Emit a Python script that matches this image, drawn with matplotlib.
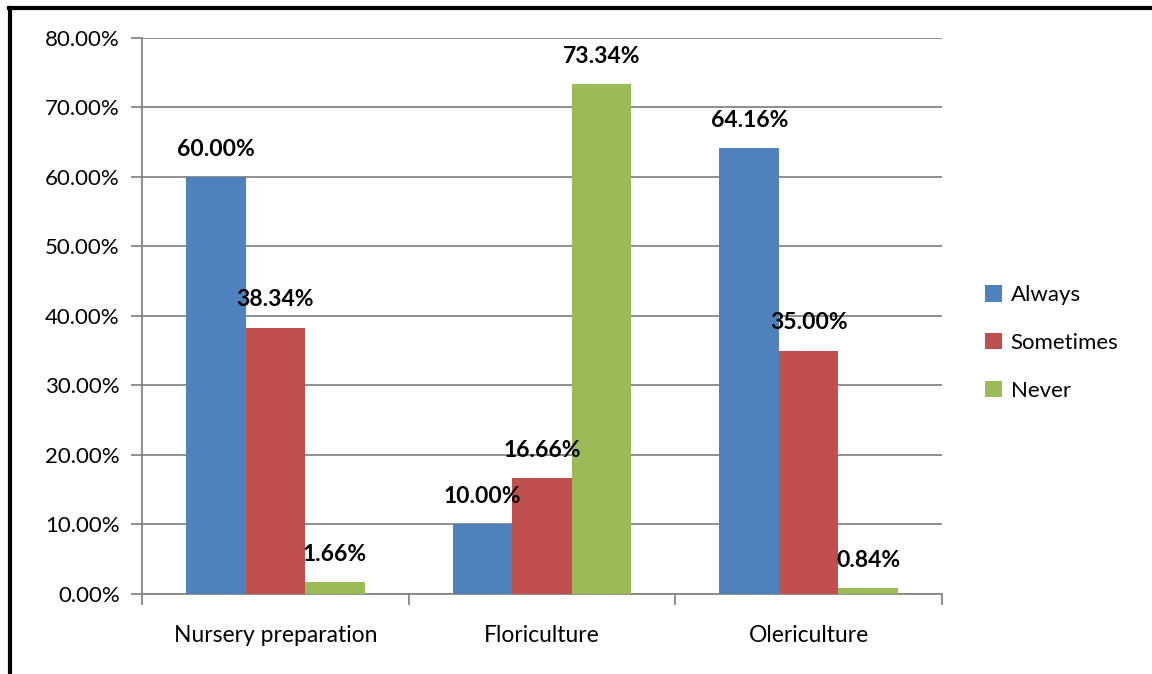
import matplotlib
matplotlib.use('Agg')
from matplotlib import pyplot as plt
import numpy as np
from matplotlib.lines import Line2D

categories = ['Nursery preparation', 'Floriculture', 'Olericulture']
series_names = ['Always', 'Sometimes', 'Never']
always = [60.00, 10.00, 64.16]
sometimes = [38.34, 16.66, 35.00]
never = [1.66, 73.34, 0.84]
colors = ['#4F81BD', '#C0504D', '#9BBB59']

plt.rcParams['font.family'] = ['Lato', 'DejaVu Sans']

fig = plt.figure(figsize=(11.52, 6.74), dpi=100)
ax = fig.add_axes([0.1233, 0.1187, 0.6944, 0.825])

x = np.arange(len(categories))
width = 0.223
for i, (vals, name, col) in enumerate(zip([always, sometimes, never], series_names, colors)):
    pos = x + (i - 1) * width
    ax.bar(pos, vals, width, color=col, label=name, zorder=3)
    for p, v in zip(pos, vals):
        ax.annotate(f'{v:.2f}%', (p, v), xytext=(0, 20), textcoords='offset points',
                    ha='center', va='center', fontsize=16.5, fontweight='bold', zorder=4)

ax.set_xlim(-0.5, len(categories) - 0.5)
ax.set_ylim(0, 80)
ax.set_yticks(np.arange(0, 81, 10))
ax.set_yticklabels([f'{t:.2f}%' for t in np.arange(0, 81, 10)], fontsize=16)
ax.yaxis.grid(True, color='#868686', linewidth=1.3, zorder=0)

ax.set_xticks(x)
ax.set_xticklabels(categories, fontsize=16.5)
ax.tick_params(axis='x', length=0, pad=22)
ax.tick_params(axis='y', length=8, color='#868686', width=1.3, pad=8)
# category boundary ticks
ax.set_xticks(np.arange(-0.5, len(categories)), minor=True)
ax.tick_params(axis='x', which='minor', length=8, color='#868686', width=1.3)

for s in ['top', 'right']:
    ax.spines[s].set_visible(False)
for s in ['left', 'bottom']:
    ax.spines[s].set_color('#868686')
    ax.spines[s].set_linewidth(1.3)

leg = ax.legend(loc='center left', bbox_to_anchor=(0.855, 0.491), bbox_transform=fig.transFigure,
                frameon=False, fontsize=16, borderpad=0, borderaxespad=0,
                handlelength=0.75, handleheight=0.75, handletextpad=0.4, labelspacing=1.25)

# frame lines at top and left of the picture
fig.add_artist(Line2D([0.0075, 1.0], [0.9875, 0.9875], color='black', linewidth=3, transform=fig.transFigure))
fig.add_artist(Line2D([0.0085, 0.0085], [0.0, 0.9875], color='black', linewidth=3, transform=fig.transFigure))

plt.savefig('out.png', dpi=100)
